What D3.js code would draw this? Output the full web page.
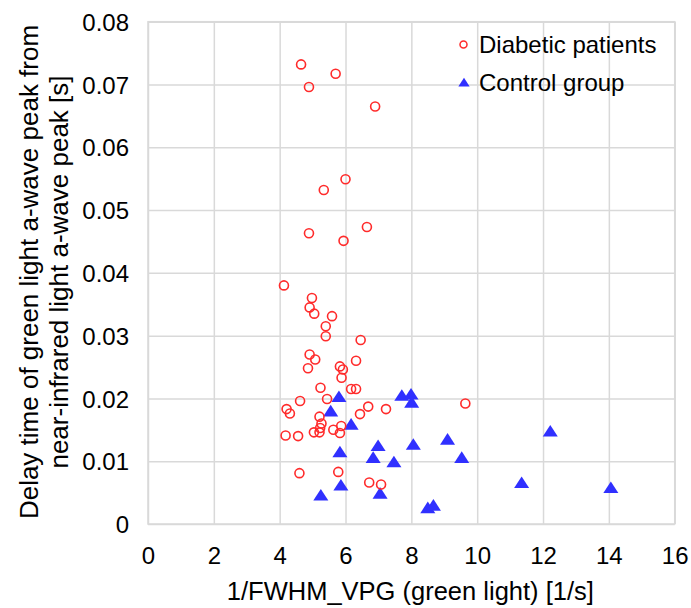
<!DOCTYPE html>
<html>
<head>
<meta charset="utf-8">
<script src="https://cdn.jsdelivr.net/npm/d3@7"></script>
<style>
  body { margin: 0; background: #fff; }
  text { font-family: "Liberation Sans", Arial, sans-serif; fill: #000; }
</style>
</head>
<body>
<div id="chart-area"></div>
<script>
// data
var diabeticX = [4.65, 5.70, 4.89, 6.90, 6.00, 5.34, 4.89, 6.65, 5.94, 4.13,
    4.98, 4.91, 5.05, 5.59, 5.40, 5.40, 6.46, 4.91, 5.08, 6.32,
    4.86, 5.83, 5.92, 5.88, 5.24, 6.17, 6.32, 5.44, 4.62, 4.21,
    4.31, 6.69, 7.23, 6.44, 5.21, 5.27, 5.23, 5.04, 5.21, 5.63,
    5.87, 5.83, 4.18, 4.56, 4.60, 5.78, 6.72, 7.08, 9.64];
var diabeticY = [0.0732, 0.0717, 0.0696, 0.0665, 0.0549, 0.0532, 0.0463, 0.0473, 0.0451, 0.0380,
    0.0360, 0.0345, 0.0335, 0.0331, 0.0315, 0.0299, 0.0293, 0.0270, 0.0262, 0.0260,
    0.0248, 0.0251, 0.0246, 0.0233, 0.0217, 0.0215, 0.0215, 0.0199, 0.0196, 0.0183,
    0.0176, 0.0187, 0.0183, 0.0175, 0.0171, 0.0160, 0.0153, 0.0146, 0.0146, 0.0150,
    0.0156, 0.0145, 0.0141, 0.0140, 0.0081, 0.0083, 0.0066, 0.0063, 0.0192];

var controlX = [5.80, 5.55, 6.17, 5.83, 6.99, 6.84, 7.47, 5.86, 5.25, 7.05,
    7.71, 7.99, 8.01, 8.06, 9.10, 9.53, 12.22, 11.35, 14.06, 8.50, 8.67];
var controlY = [0.0202, 0.0179, 0.0158, 0.0114, 0.0124, 0.0105, 0.0098, 0.0061, 0.0045, 0.0048,
    0.0204, 0.0206, 0.0193, 0.0126, 0.0134, 0.0105, 0.0147, 0.0065, 0.0057, 0.0025, 0.0029];

var xTicks = [0, 2, 4, 6, 8, 10, 12, 14, 16];
var yTicks = [0, 0.01, 0.02, 0.03, 0.04, 0.05, 0.06, 0.07, 0.08];
var yTickLabels = ["0", "0.01", "0.02", "0.03", "0.04", "0.05", "0.06", "0.07", "0.08"];
var seriesNames = ["Diabetic patients", "Control group"];

var red = "#ff2b2b";
var blue = "#3030ff";
var gridColor = "#d9d9d9";

var svg = d3.select("#chart-area")
    .append("svg")
    .attr("width", 691)
    .attr("height", 608);

// plot box
var pLeft = 148, pRight = 674.7, pTop = 21.7, pBottom = 524;

var x = d3.scaleLinear()
    .domain([0, 16])
    .range([pLeft, pRight]);

var y = d3.scaleLinear()
    .domain([0, 0.08])
    .range([pBottom, pTop]);

// Grid
var xGrid = d3.axisBottom(x)
    .tickValues(xTicks)
    .tickSize(-(pBottom - pTop))
    .tickFormat("");
svg.append("g")
    .attr("transform", "translate(0," + pBottom + ")")
    .call(xGrid)
    .call(function(g) {
        g.select(".domain").remove();
        g.selectAll("line").attr("stroke", gridColor).attr("stroke-width", 1.5);
    });

var yGrid = d3.axisLeft(y)
    .tickValues(yTicks)
    .tickSize(-(pRight - pLeft))
    .tickFormat("");
svg.append("g")
    .attr("transform", "translate(" + pLeft + ",0)")
    .call(yGrid)
    .call(function(g) {
        g.select(".domain").remove();
        g.selectAll("line").attr("stroke", gridColor).attr("stroke-width", 1.5);
    });

svg.append("rect")
    .attr("x", pLeft)
    .attr("y", pTop)
    .attr("width", pRight - pLeft)
    .attr("height", pBottom - pTop)
    .attr("fill", "none")
    .attr("stroke", gridColor)
    .attr("stroke-width", 1.5);

// Tick labels
var xAxisCall = d3.axisBottom(x)
    .tickValues(xTicks)
    .tickSize(0)
    .tickPadding(0)
    .tickFormat(function(d) { return d; });
svg.append("g")
    .attr("transform", "translate(0," + pBottom + ")")
    .call(xAxisCall)
    .call(function(g) {
        g.select(".domain").remove();
        g.selectAll("text")
            .attr("y", 40)
            .attr("dy", 0)
            .attr("font-size", "24px")
            .attr("fill", "#000");
    });

var yAxisCall = d3.axisLeft(y)
    .tickValues(yTicks)
    .tickSize(0)
    .tickPadding(0)
    .tickFormat(function(d, i) { return yTickLabels[i]; });
svg.append("g")
    .attr("transform", "translate(" + pLeft + ",0)")
    .call(yAxisCall)
    .call(function(g) {
        g.select(".domain").remove();
        g.selectAll("text")
            .attr("x", -19)
            .attr("dy", "0.36em")
            .attr("font-size", "24px")
            .attr("fill", "#000");
    });

// Axis titles
svg.append("text")
    .attr("x", (pLeft + pRight) / 2 - 1)
    .attr("y", 600)
    .attr("font-size", "25.5px")
    .attr("text-anchor", "middle")
    .text("1/FWHM_VPG (green light) [1/s]");

var yTitle = svg.append("text")
    .attr("transform", "translate(0," + 272 + ") rotate(-90)")
    .attr("font-size", "26px")
    .attr("text-anchor", "middle");
yTitle.append("tspan")
    .attr("x", 0)
    .attr("y", 38)
    .text("Delay time of green light a-wave peak from");
yTitle.append("tspan")
    .attr("x", 0)
    .attr("y", 68)
    .text("near-infrared light a-wave peak [s]");

// Points
var diabetic = diabeticX.map(function(d, i) { return { x: d, y: diabeticY[i] }; });
var control = controlX.map(function(d, i) { return { x: d, y: controlY[i] }; });

var tri = d3.symbol().type(d3.symbolTriangle).size(78);

svg.append("g").selectAll("path")
    .data(control)
    .enter()
    .append("path")
    .attr("d", tri)
    .attr("transform", function(d) {
        return "translate(" + x(d.x) + "," + (y(d.y) + 1) + ") scale(1.12,1)";
    })
    .attr("fill", blue);

svg.append("g").selectAll("circle")
    .data(diabetic)
    .enter()
    .append("circle")
    .attr("cx", function(d) { return x(d.x); })
    .attr("cy", function(d) { return y(d.y); })
    .attr("r", 4.5)
    .attr("fill", "none")
    .attr("stroke", red)
    .attr("stroke-width", 1.6);

// Legend
var legend = svg.append("g");
legend.append("circle")
    .attr("cx", 463.5)
    .attr("cy", 44.5)
    .attr("r", 3.5)
    .attr("fill", "none")
    .attr("stroke", red)
    .attr("stroke-width", 1.5);
legend.append("path")
    .attr("d", d3.symbol().type(d3.symbolTriangle).size(44))
    .attr("transform", "translate(464,83.5) scale(1.12,1)")
    .attr("fill", blue);
legend.selectAll("text.leg")
    .data(seriesNames)
    .enter()
    .append("text")
    .attr("class", "leg")
    .attr("x", 479)
    .attr("y", function(d, i) { return 52.5 + i * 38; })
    .attr("font-size", "24px")
    .text(function(d) { return d; });
</script>
</body>
</html>
